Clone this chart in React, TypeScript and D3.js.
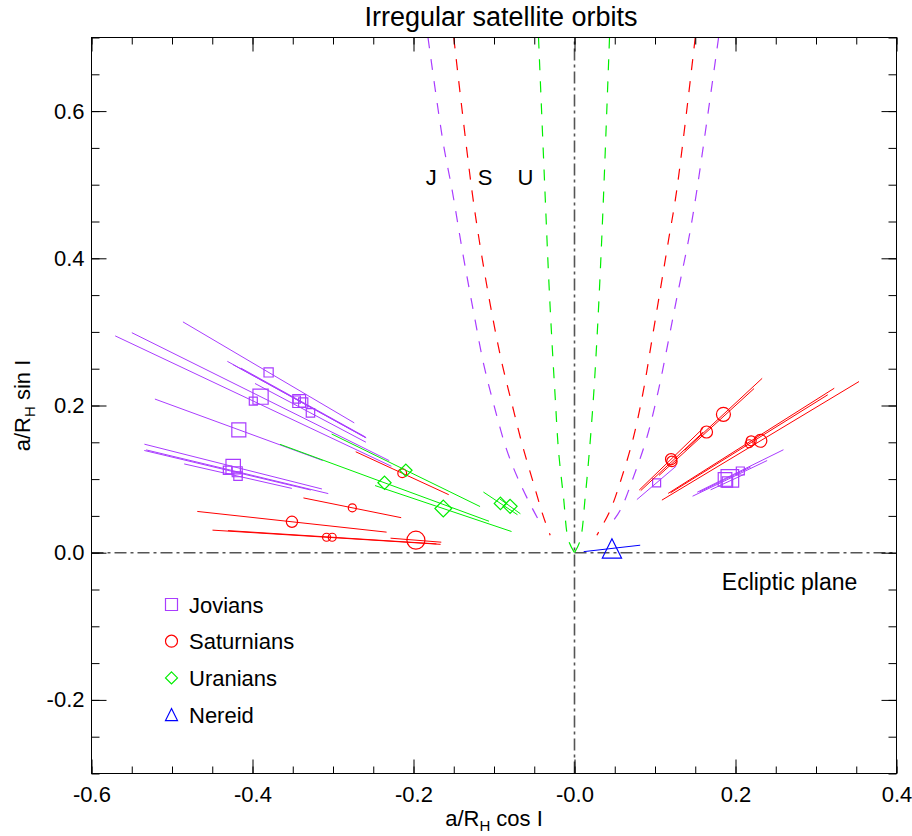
import React, { useEffect, useRef } from 'react';
import * as d3 from 'd3';

const W = 912;
const H = 836;

// each satellite: [a cos I / R_H, a sin I / R_H, eccentricity, relative symbol size]
const jovians: number[][] = [
  [-0.380, 0.245, 0.28, 1.15],
  [-0.390, 0.212, 0.41, 1.9],
  [-0.399, 0.206, 0.43, 1.0],
  [-0.342, 0.206, 0.24, 1.6],
  [-0.337, 0.204, 0.23, 1.15],
  [-0.345, 0.208, 0.25, 0.9],
  [-0.328, 0.190, 0.21, 1.05],
  [-0.417, 0.167, 0.25, 1.75],
  [-0.424, 0.117, 0.26, 1.8],
  [-0.431, 0.112, 0.24, 1.05],
  [-0.419, 0.110, 0.27, 1.25],
  [-0.418, 0.104, 0.16, 1.05],
  [0.102, 0.095, 0.24, 1.0],
  [0.187, 0.0995, 0.17, 1.7],
  [0.193, 0.101, 0.24, 2.2],
  [0.190, 0.096, 0.11, 1.3],
  [0.206, 0.111, 0.26, 1.0],
];

const saturnians: number[][] = [
  [-0.214, 0.108, 0.27, 1.1],
  [-0.276, 0.061, 0.22, 1.0],
  [-0.351, 0.042, 0.335, 1.4],
  [-0.308, 0.021, 0.46, 1.0],
  [-0.301, 0.021, 0.43, 1.0],
  [-0.197, 0.017, 0.16, 2.25],
  [0.120, 0.127, 0.33, 1.4],
  [0.121, 0.124, 0.32, 1.3],
  [0.164, 0.164, 0.36, 1.5],
  [0.185, 0.188, 0.26, 1.75],
  [0.2195, 0.152, 0.47, 1.25],
  [0.231, 0.152, 0.53, 1.6],
  [0.217, 0.148, 0.45, 1.0],
];

const uranians: number[][] = [
  [-0.2095, 0.112, 0.44, 1.55],
  [-0.236, 0.095, 0.55, 1.65],
  [-0.163, 0.060, 0.52, 2.1],
  [-0.092, 0.067, 0.23, 1.55],
  [-0.080, 0.063, 0.16, 1.75],
];

const nereid: number[][] = [
  [0.0465, 0.0058, 0.755, 2.4],
];

// dashed boundaries
const jLeft = [[-0.182, 0.70], [-0.163, 0.556], [-0.152, 0.4925], [-0.138, 0.402], [-0.125, 0.325], [-0.113, 0.257], [-0.1006, 0.2027], [-0.084, 0.139], [-0.0675, 0.094], [-0.0467, 0.0486], [-0.0405, 0.0374]];
const jRight = [[0.179, 0.70], [0.152, 0.4925], [0.1416, 0.4246], [0.129, 0.3567], [0.1168, 0.2887], [0.1043, 0.2208], [0.090, 0.157], [0.0733, 0.103], [0.0568, 0.0577], [0.0422, 0.035]];
const sLeft = [[-0.150, 0.70], [-0.1275, 0.4925], [-0.115, 0.402], [-0.1026, 0.325], [-0.090, 0.257], [-0.0778, 0.2027], [-0.0653, 0.1484], [-0.0509, 0.094], [-0.0385, 0.0486], [-0.0302, 0.0238]];
const sRight = [[0.150, 0.70], [0.127, 0.4925], [0.1168, 0.4246], [0.1065, 0.3567], [0.0961, 0.2887], [0.0857, 0.2208], [0.0733, 0.157], [0.0589, 0.103], [0.0444, 0.0577], [0.0278, 0.0238]];
const uLeft = [[-0.0447, 0.70], [-0.0364, 0.4834], [-0.0323, 0.379], [-0.0281, 0.2887], [-0.024, 0.2117], [-0.0199, 0.1393], [-0.0137, 0.0758], [-0.0075, 0.0169], [0, 0]];
const uRight = [[0.0435, 0.70], [0.036, 0.4834], [0.0319, 0.379], [0.0278, 0.2887], [0.0236, 0.2117], [0.0186, 0.1393], [0.0133, 0.0758], [0.0071, 0.0169], [0, 0]];

const xTickLabels = ['-0.6', '-0.4', '-0.2', '-0.0', '0.2', '0.4'];
const yTickLabels = ['-0.2', '0.0', '0.2', '0.4', '0.6'];
const legendLabels = ['Jovians', 'Saturnians', 'Uranians', 'Nereid'];
const curveLabels = ['J', 'S', 'U'];
const curveLabelX = [-0.178, -0.111, -0.061];

const PURPLE = '#a93cff';
const RED = '#ff0000';
const GREEN = '#00ee00';
const BLUE = '#0000ff';

const symbolPath = (shape: string, cx: number, cy: number, size: number) => {
  const h = size / 2;
  if (shape === 'square') return `M${cx - h},${cy - h}h${size}v${size}h${-size}Z`;
  if (shape === 'diamond') return `M${cx},${cy - h}L${cx + h},${cy}L${cx},${cy + h}L${cx - h},${cy}Z`;
  if (shape === 'triangle') return `M${cx},${cy - h}L${cx + h},${cy + h}L${cx - h},${cy + h}Z`;
  const p = d3.path();
  p.moveTo(cx + h, cy);
  p.arc(cx, cy, h, 0, Math.PI * 2);
  p.closePath();
  return p.toString();
};

const App = () => {
  const ref = useRef<SVGSVGElement>(null);

  useEffect(() => {
    const svg = d3.select(ref.current);
    svg.selectAll('*').remove();

    const font = 'Liberation Sans, Arial, Helvetica, sans-serif';
    const x = d3.scaleLinear().domain([-0.6, 0.4]).range([91.5, 896.5]);
    const y = d3.scaleLinear().domain([-0.3, 0.7]).range([773.5, 37.5]);
    const sym = d3.scaleLinear().domain([0, 1]).range([0, 8]);

    svg.append('rect').attr('width', W).attr('height', H).attr('fill', 'white');

    svg.append('defs').append('clipPath').attr('id', 'plot-clip')
      .append('rect')
      .attr('x', x(-0.6)).attr('y', y(0.7))
      .attr('width', x(0.4) - x(-0.6)).attr('height', y(-0.3) - y(0.7));

    const plot = svg.append('g').attr('clip-path', 'url(#plot-clip)');

    // ecliptic and pole lines
    plot.append('line')
      .attr('x1', x(-0.6)).attr('x2', x(0.4)).attr('y1', y(0)).attr('y2', y(0))
      .attr('stroke', '#555').attr('stroke-width', 1.6).attr('stroke-dasharray', '12,4,3,4');
    plot.append('line')
      .attr('x1', x(0)).attr('x2', x(0)).attr('y1', y(-0.3)).attr('y2', y(0.7))
      .attr('stroke', '#555').attr('stroke-width', 1.6).attr('stroke-dasharray', '12,4,3,4');

    // stability boundaries
    const line = d3.line<number[]>()
      .x(d => x(d[0]))
      .y(d => y(d[1]))
      .curve(d3.curveCatmullRom);

    const curves = [
      { pts: jLeft, color: PURPLE }, { pts: jRight, color: PURPLE },
      { pts: sLeft, color: RED }, { pts: sRight, color: RED },
      { pts: uLeft, color: GREEN }, { pts: uRight, color: GREEN },
    ];
    curves.forEach(c => {
      plot.append('path')
        .attr('d', line(c.pts))
        .attr('fill', 'none')
        .attr('stroke', c.color)
        .attr('stroke-width', 1.2)
        .attr('stroke-dasharray', '11,11');
    });

    // satellites: pericentre-apocentre segment plus symbol
    const families = [
      { data: jovians, color: PURPLE, shape: 'square' },
      { data: saturnians, color: RED, shape: 'circle' },
      { data: uranians, color: GREEN, shape: 'diamond' },
      { data: nereid, color: BLUE, shape: 'triangle' },
    ];
    families.forEach(f => {
      const g = plot.append('g');
      g.selectAll('line')
        .data(f.data)
        .enter().append('line')
        .attr('x1', d => x(d[0] * (1 - d[2])))
        .attr('y1', d => y(d[1] * (1 - d[2])))
        .attr('x2', d => x(d[0] * (1 + d[2])))
        .attr('y2', d => y(d[1] * (1 + d[2])))
        .attr('stroke', f.color)
        .attr('stroke-width', 1);
      g.selectAll('path')
        .data(f.data)
        .enter().append('path')
        .attr('d', d => symbolPath(f.shape, x(d[0]), y(d[1]), sym(d[3])))
        .attr('fill', 'none')
        .attr('stroke', f.color)
        .attr('stroke-width', 1.2);
    });

    // curve labels
    svg.append('g').selectAll('text')
      .data(curveLabels)
      .enter().append('text')
      .attr('x', (d, i) => x(curveLabelX[i]))
      .attr('y', y(0.5))
      .attr('text-anchor', 'middle')
      .attr('font-family', font)
      .attr('font-size', 22)
      .text(d => d);

    plot.append('text')
      .attr('x', x(0.183))
      .attr('y', y(-0.05))
      .attr('font-family', font)
      .attr('font-size', 23)
      .text('Ecliptic plane');

    // legend
    const legend = svg.append('g');
    const legendColors = [PURPLE, RED, GREEN, BLUE];
    const legendShapes = ['square', 'circle', 'diamond', 'triangle'];
    legendLabels.forEach((label, i) => {
      const cy = 604.5 + i * 36.7;
      legend.append('path')
        .attr('d', symbolPath(legendShapes[i], 171.5, cy, 12))
        .attr('fill', 'none')
        .attr('stroke', legendColors[i])
        .attr('stroke-width', 1.2);
      legend.append('text')
        .attr('x', 189)
        .attr('y', cy + 8)
        .attr('font-family', font)
        .attr('font-size', 22)
        .text(label);
    });

    // axes
    const xMajor = x.ticks(5);
    const xMinor = x.ticks(20);
    const yMajor = y.ticks(5);
    const yMinor = y.ticks(20);
    const styleAxis = (g: any) => {
      g.select('.domain').remove();
      g.selectAll('line').attr('stroke', '#000');
      g.selectAll('text').attr('fill', '#000').attr('font-family', font).attr('font-size', 22);
    };

    svg.append('g').attr('transform', `translate(0,${y(-0.3)})`)
      .call(d3.axisBottom(x).tickValues(xMinor).tickSize(-7).tickFormat(() => '')).call(styleAxis);
    svg.append('g').attr('transform', `translate(0,${y(-0.3)})`)
      .call(d3.axisBottom(x).tickValues(xMajor).tickSize(-14).tickPadding(13)
        .tickFormat((d, i) => xTickLabels[i])).call(styleAxis);
    svg.append('g').attr('transform', `translate(0,${y(0.7)})`)
      .call(d3.axisTop(x).tickValues(xMinor).tickSize(-7).tickFormat(() => '')).call(styleAxis);
    svg.append('g').attr('transform', `translate(0,${y(0.7)})`)
      .call(d3.axisTop(x).tickValues(xMajor).tickSize(-14).tickFormat(() => '')).call(styleAxis);

    svg.append('g').attr('transform', `translate(${x(-0.6)},0)`)
      .call(d3.axisLeft(y).tickValues(yMinor).tickSize(-8).tickFormat(() => '')).call(styleAxis);
    svg.append('g').attr('transform', `translate(${x(-0.6)},0)`)
      .call(d3.axisLeft(y).tickValues(yMajor).tickSize(-15).tickPadding(7)
        .tickFormat((d, i) => yTickLabels[i])).call(styleAxis);
    svg.append('g').attr('transform', `translate(${x(0.4)},0)`)
      .call(d3.axisRight(y).tickValues(yMinor).tickSize(-8).tickFormat(() => '')).call(styleAxis);
    svg.append('g').attr('transform', `translate(${x(0.4)},0)`)
      .call(d3.axisRight(y).tickValues(yMajor).tickSize(-15).tickFormat(() => '')).call(styleAxis);

    svg.append('rect')
      .attr('x', x(-0.6)).attr('y', y(0.7))
      .attr('width', x(0.4) - x(-0.6)).attr('height', y(-0.3) - y(0.7))
      .attr('fill', 'none').attr('stroke', '#000').attr('stroke-width', 1);

    // titles
    svg.append('text')
      .attr('x', 501).attr('y', 26)
      .attr('text-anchor', 'middle')
      .attr('font-family', font).attr('font-size', 27)
      .text('Irregular satellite orbits');

    const xt = svg.append('text')
      .attr('x', (x(-0.6) + x(0.4)) / 2).attr('y', 826)
      .attr('text-anchor', 'middle')
      .attr('font-family', font).attr('font-size', 22);
    xt.append('tspan').text('a/R');
    xt.append('tspan').attr('font-size', 15).attr('dy', 5).text('H');
    xt.append('tspan').attr('dy', -5).text(' cos I');

    const yt = svg.append('text')
      .attr('transform', `translate(30,${(y(-0.3) + y(0.7)) / 2}) rotate(-90)`)
      .attr('text-anchor', 'middle')
      .attr('font-family', font).attr('font-size', 22);
    yt.append('tspan').text('a/R');
    yt.append('tspan').attr('font-size', 15).attr('dy', 5).text('H');
    yt.append('tspan').attr('dy', -5).text(' sin I');
  }, []);

  return (
    <svg ref={ref} width={W} height={H} style={{ position: 'absolute', left: 0, top: 0 }}></svg>
  );
};

export default App;
